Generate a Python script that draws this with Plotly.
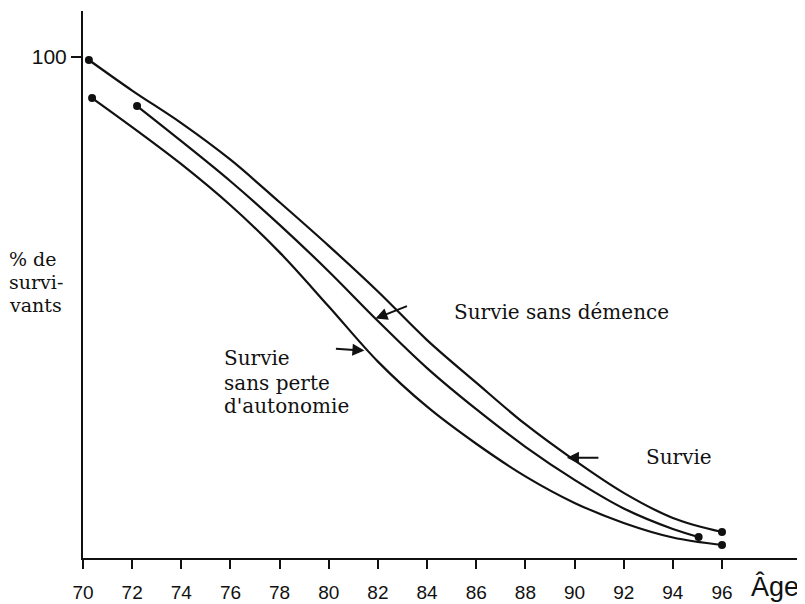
import plotly.graph_objects as go

# ---- data ----
age_survie = [70.24, 72, 74, 76, 78, 80, 82, 84, 86, 88, 90, 92, 94, 96]
pct_survie = [99.4, 93.3, 86.8, 79.5, 71.0, 62.3, 53.2, 43.5, 35.0, 26.7, 19.5, 13.0, 8.0, 5.2]

age_demence = [72.2, 74, 76, 78, 80, 82, 84, 86, 88, 90, 92, 94, 95.05]
pct_demence = [90.2, 83.2, 75.2, 66.5, 57.2, 47.3, 37.9, 29.7, 22.2, 15.6, 9.9, 5.8, 4.2]

age_autonomie = [70.37, 72, 74, 76, 78, 80, 82, 84, 86, 88, 90, 92, 94, 96]
pct_autonomie = [91.8, 86.0, 78.6, 70.4, 61.0, 50.2, 39.2, 30.2, 22.8, 16.3, 11.0, 7.0, 4.1, 2.6]

x_ticks = list(range(70, 97, 2))
y_ticks = [100]
y_ticktext = ["100"]

# arrow targets (age, %) for the labels
arrow_demence = (81.9, 47.8)
arrow_autonomie = (81.45, 41.4)
arrow_survie = (89.69, 20.0)

INK = "#111111"
SERIF = "DejaVu Serif"
SANS = "Liberation Sans"

# the page adds an 8px body margin; positions below are page pixels
OFF = 8
L, R, T, B = 83, 798, 11, 558
W, H = 805 - OFF, 604 - OFF


def px(xp):
    return (xp - L) / (R - L)


def py(yp):
    return (B - yp) / (B - T)


fig = go.Figure()

for ages, pcts in [
    (age_survie, pct_survie),
    (age_demence, pct_demence),
    (age_autonomie, pct_autonomie),
]:
    fig.add_trace(go.Scatter(
        x=ages, y=pcts, mode="lines",
        line=dict(color=INK, width=2.2, shape="spline", smoothing=1),
        hoverinfo="skip", showlegend=False,
    ))
    fig.add_trace(go.Scatter(
        x=[ages[0], ages[-1]], y=[pcts[0], pcts[-1]], mode="markers",
        marker=dict(color=INK, size=8),
        hoverinfo="skip", showlegend=False,
    ))

annotations = []


def label(text, xp, yp, size=20, font=SERIF, xanchor="left"):
    annotations.append(dict(
        text=text, xref="paper", yref="paper", x=px(xp), y=py(yp),
        xanchor=xanchor, yanchor="middle", showarrow=False,
        font=dict(family=font, size=size, color=INK),
    ))


label("% de", 7, 259, size=19)
label("survi-", 7, 282, size=19)
label("vants", 7, 305, size=19)
label("Survie sans démence", 452, 312)
label("Survie", 222, 358)
label("sans perte", 222, 383)
label("d'autonomie", 222, 406)
label("Survie", 644, 457)
label("Âge", 775, 586, size=27, font=SANS, xanchor="center")


def arrow(target, ax, ay):
    annotations.append(dict(
        text="", x=target[0], y=target[1], xref="x", yref="y",
        ax=ax, ay=ay, showarrow=True, arrowhead=2, arrowsize=1.2,
        arrowwidth=2, arrowcolor=INK, standoff=0,
    ))


arrow(arrow_demence, 33, -13)
arrow(arrow_autonomie, -30, -2)
arrow(arrow_survie, 33, 0)

x_lo = 70
x_hi = 70 + (R - L) / ((722 - L) / 26)
y_hi = (B - T) / ((B - 57) / 100)

fig.update_layout(
    width=W, height=H,
    margin=dict(l=L - OFF, r=805 - R, t=T - OFF, b=604 - B, pad=0),
    paper_bgcolor="white", plot_bgcolor="white",
    annotations=annotations,
    xaxis=dict(
        range=[x_lo, x_hi], tickvals=x_ticks, ticks="outside", ticklen=9,
        tickwidth=2, tickcolor=INK, showline=True, linewidth=2, linecolor=INK,
        showgrid=False, zeroline=False, ticklabelstandoff=7, automargin=False,
        tickfont=dict(family=SANS, size=19, color=INK),
    ),
    yaxis=dict(
        range=[0, y_hi], tickvals=y_ticks, ticktext=y_ticktext, ticks="outside",
        ticklen=10, tickwidth=2, tickcolor=INK, showline=True, linewidth=2,
        linecolor=INK, showgrid=False, zeroline=False, automargin=False,
        tickfont=dict(family=SANS, size=21, color=INK),
    ),
)

fig.write_html("out.html")
